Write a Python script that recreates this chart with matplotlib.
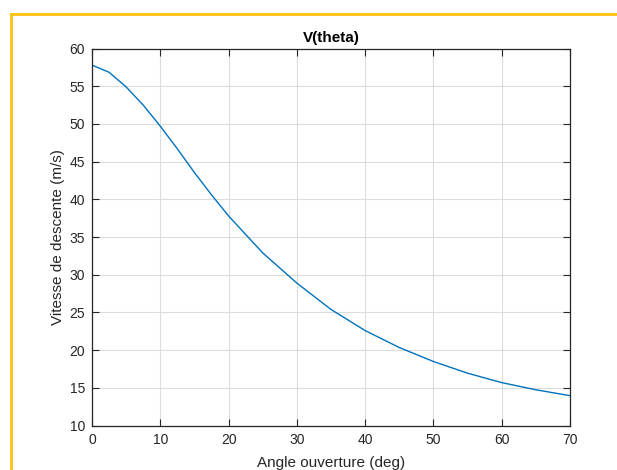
import matplotlib
matplotlib.use('Agg')
import matplotlib.pyplot as plt
from matplotlib.lines import Line2D

# angle d'ouverture (deg) et vitesse de descente (m/s)
theta = [0, 2.5, 5, 7.5, 10, 12.5, 15, 17.5, 20, 25, 30, 35, 40, 45, 50, 55, 60, 65, 70]
vit = [57.8, 56.85, 54.9, 52.5, 49.7, 46.7, 43.55, 40.6, 37.8, 32.9, 28.9, 25.4, 22.6, 20.35,
       18.5, 16.95, 15.7, 14.75, 13.97]

xticks = [0, 10, 20, 30, 40, 50, 60, 70]
yticks = [10, 15, 20, 25, 30, 35, 40, 45, 50, 55, 60]

plt.rcParams['font.family'] = ['Liberation Sans', 'DejaVu Sans']

fig = plt.figure(figsize=(6.17, 4.70), dpi=100)
fig.patch.set_facecolor('white')

# cadre jaune (bord de selection)
fig.add_artist(Line2D([11/617, 11/617], [0, 1-14/470], transform=fig.transFigure, color='#FFC20E', lw=2))
fig.add_artist(Line2D([11/617, 1], [1-14/470, 1-14/470], transform=fig.transFigure, color='#FFC20E', lw=2))

ax = fig.add_axes([92/617, 1-425.6/470, (570-92)/617, (425.6-48.5)/470])
ax.plot(theta, vit, color='#0072BD', lw=1)

ax.set_xlim(0, 70)
ax.set_ylim(10, 60)
ax.set_xticks(xticks)
ax.set_yticks(yticks)
ax.grid(True, color='#dcdcdc', lw=0.8)
ax.set_axisbelow(True)
ax.tick_params(direction='in', length=5, width=0.8, top=True, right=True,
               labelsize=10, colors='#262626', pad=5)
for s in ax.spines.values():
    s.set_color('#262626')
    s.set_linewidth(0.9)

ax.set_title('V(theta)', fontsize=11, fontweight='bold', color='#000000', pad=5)
ax.set_xlabel('Angle ouverture (deg)', fontsize=11, color='#262626', labelpad=7)
ax.set_ylabel('Vitesse de descente (m/s)', fontsize=11, color='#262626', labelpad=3)

fig.savefig('out.png', dpi=100)
